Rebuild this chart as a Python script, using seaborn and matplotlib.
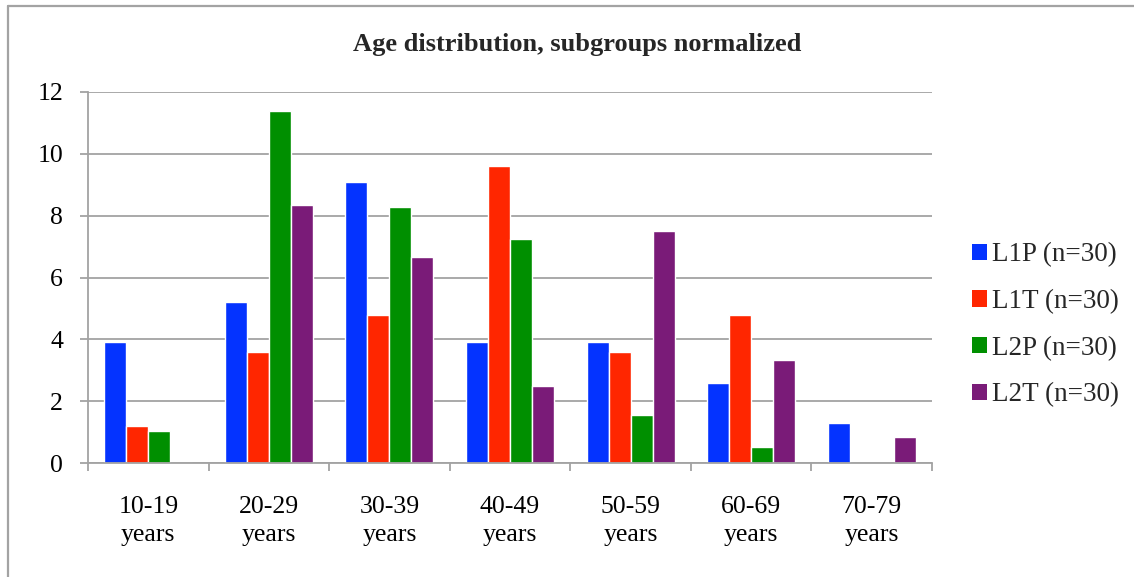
import numpy as np
import pandas as pd
import matplotlib
matplotlib.use("Agg")
import matplotlib.pyplot as plt
from matplotlib.lines import Line2D
from matplotlib.patches import Patch
import seaborn as sns

# Age groups and per-subgroup normalized counts
age_groups = ["10-19\nyears", "20-29\nyears", "30-39\nyears", "40-49\nyears",
              "50-59\nyears", "60-69\nyears", "70-79\nyears"]
series_names = ["L1P (n=30)", "L1T (n=30)", "L2P (n=30)", "L2T (n=30)"]
l1p = [3.9, 5.2, 9.1, 3.9, 3.9, 2.6, 1.3]
l1t = [1.2, 3.6, 4.8, 9.6, 3.6, 4.8, 0.0]
l2p = [1.03, 11.38, 8.28, 7.24, 1.55, 0.52, 0.0]
l2t = [0.0, 8.33, 6.67, 2.5, 7.5, 3.33, 0.83]
y_ticks = [0, 2, 4, 6, 8, 10, 12]
colors = ["#0433FF", "#FF2600", "#008F00", "#7A1B78"]

df = pd.DataFrame({
    "age": age_groups * 4,
    "group": np.repeat(series_names, len(age_groups)),
    "value": l1p + l1t + l2p + l2t,
})

sns.set_theme(style="white")
plt.rcParams["font.family"] = ["Liberation Serif", "DejaVu Serif"]

W, H = 1134, 577
fig = plt.figure(figsize=(W / 100, H / 100), dpi=100)
ax = fig.add_axes([88 / W, 1 - 463 / H, (932 - 88) / W, (463 - 92) / H])

sns.barplot(data=df, x="age", y="value", hue="group", order=age_groups,
            hue_order=series_names, palette=colors, saturation=1,
            width=0.73, dodge=True, ax=ax, legend=False, errorbar=None)

grid_c = "#a3a3a3"
ax.set_ylim(0, 12)
ax.set_xlim(-0.5, len(age_groups) - 0.5)
ax.set_yticks(y_ticks)
ax.set_yticklabels([str(v) for v in y_ticks])
ax.yaxis.grid(True, color=grid_c, linewidth=1.3)
ax.set_axisbelow(True)
ax.set_xlabel("")
ax.set_ylabel("")

for side in ["top", "right"]:
    ax.spines[side].set_visible(False)
for side in ["left", "bottom"]:
    ax.spines[side].set_color(grid_c)
    ax.spines[side].set_linewidth(1.3)

# Category boundaries carry the tick marks; labels sit at the centers
ax.set_xticks(np.arange(-0.5, len(age_groups), 1.0), minor=True)
ax.tick_params(axis="x", which="minor", length=6, width=1.3, color=grid_c,
               direction="out", bottom=True)
ax.tick_params(axis="x", which="major", length=0, pad=24, labelsize=18.5,
               labelcolor="black")
ax.tick_params(axis="y", which="major", length=6, width=1.3, color=grid_c,
               direction="out", left=True, pad=12, labelsize=18.5,
               labelcolor="black")
for lbl in ax.get_xticklabels():
    lbl.set_linespacing(1.35)

fig.text(577 / W, 1 - 45 / H, "Age distribution, subgroups normalized",
         ha="center", va="center", fontsize=19, fontweight="bold")

handles = [Patch(facecolor=c, edgecolor="none") for c in colors]
fig.legend(handles, series_names, loc="center left",
           bbox_to_anchor=(972 / W, 1 - 325 / H), frameon=False,
           fontsize=19.5, handlelength=0.55, handleheight=0.55,
           handletextpad=0.2, labelspacing=0.8, borderpad=0,
           borderaxespad=0)

# Outer chart frame (top and left edges visible)
fig.add_artist(Line2D([8 / W, 1.0], [1 - 6 / H, 1 - 6 / H],
                      transform=fig.transFigure, color=grid_c, linewidth=1.6))
fig.add_artist(Line2D([8 / W, 8 / W], [0.0, 1 - 6 / H],
                      transform=fig.transFigure, color=grid_c, linewidth=1.6))

fig.savefig("out.png", dpi=100, facecolor="white")
